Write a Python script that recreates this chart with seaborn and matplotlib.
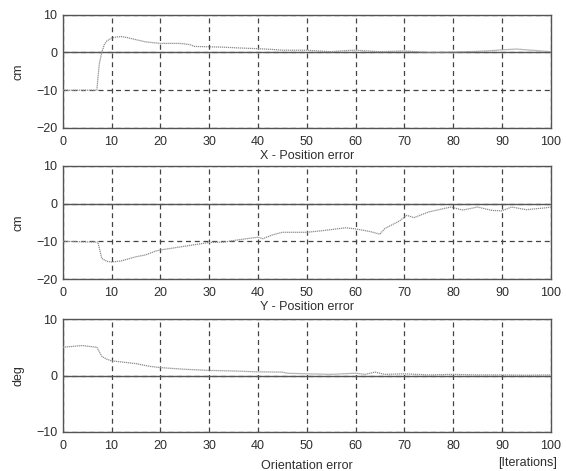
import numpy as np
import pandas as pd
import seaborn as sns
import matplotlib
matplotlib.use("Agg")
import matplotlib.pyplot as plt

sns.set_style("white")
plt.rcParams['font.family'] = ['Liberation Sans', 'DejaVu Sans']

# X - Position error (cm)
x_iter = [0, 6.5, 7, 7.2, 7.5, 8, 8.5, 9, 10, 11, 12, 13, 15, 17, 20, 24, 26, 27, 30, 33,
          36, 40, 43, 45, 50, 55, 58, 60, 65, 70, 75, 80, 85, 88, 90, 93, 95, 100]
x_err = [-10, -10, -10, -7, -3, 0, 2, 3, 3.8, 4.1, 4.2, 4.0, 3.4, 2.8, 2.4, 2.4, 2.1, 1.6, 1.5, 1.4,
         1.2, 1.0, 0.8, 0.6, 0.6, 0.2, 0.5, 0.6, 0.2, 0.4, 0.0, 0.1, 0.3, 0.5, 0.7, 0.9, 0.7, 0.2]

# Y - Position error (cm)
y_iter = [0, 7.2, 8, 9, 10, 12, 15, 17, 19, 20, 22, 25, 28, 30, 33, 36, 40, 41, 43, 45,
          50, 53, 58, 60, 63, 65, 66, 69, 70.5, 72, 75, 79.5, 82, 85, 88, 90, 92, 95, 99, 100]
y_err = [-10, -10.2, -14.5, -15.3, -15.5, -15.2, -14.1, -13.6, -12.6, -12.3, -11.9, -11.3, -10.7, -10.3, -10.2, -9.6, -8.9, -9.3, -8.3, -7.6,
         -7.6, -7.2, -6.4, -6.7, -7.4, -8.1, -6.6, -4.6, -3.1, -3.7, -2.2, -0.9, -1.7, -0.9, -1.8, -1.9, -0.9, -1.6, -1.1, -0.9]

# Orientation error (deg)
o_iter = [0, 4, 7, 8, 9, 10, 15, 18, 20, 25, 30, 35, 40, 45, 46, 50, 55, 60, 62, 64, 66, 70, 75, 80, 85, 90, 95, 100]
o_err = [5.0, 5.3, 5.0, 3.4, 2.9, 2.6, 2.1, 1.6, 1.4, 1.1, 0.9, 0.8, 0.65, 0.6, 0.4, 0.3, 0.2, 0.4, 0.2, 0.6, 0.2, 0.3, 0.1, 0.2, 0.1, 0.1, 0.05, 0.1]

fig = plt.figure(figsize=(5.66, 4.71), dpi=100)
W = 566.0
H = 471.0
left = 62.7 / W
width = (550.7 - 62.7) / W

panels = [
    (x_iter, x_err, (14.7, 128), (-20, 10), [-20, -10, 0, 10], "cm", "X - Position error", 1.5),
    (y_iter, y_err, (166, 279), (-20, 10), [-20, -10, 0, 10], "cm", "Y - Position error", 1.5),
    (o_iter, o_err, (319, 432), (-10, 10), [-10, 0, 10], "deg", "Orientation error", 5.5),
]

spine_c = "#555555"
txt_c = "#2e2e2e"
for xs, ys, (top, bot), ylim, yticks, ylab, xlab, lpad in panels:
    ax = fig.add_axes([left, 1 - bot / H, width, (bot - top) / H])
    df = pd.DataFrame({"it": xs, "err": ys})
    ax.axhline(0, color="#555555", lw=1.0, zorder=2)
    sns.lineplot(data=df, x="it", y="err", ax=ax, color="#8c8c8c", lw=0.9,
                 linestyle=(0, (1, 0.6)), zorder=3)
    ax.set_xlim(0, 100)
    ax.set_ylim(*ylim)
    ax.set_xticks(range(0, 101, 10))
    ax.set_yticks(yticks)
    ax.grid(True, color="#444444", linestyle=(0, (4, 3)), lw=0.9)
    for s in ax.spines.values():
        s.set_color(spine_c)
        s.set_linewidth(1.0)
    ax.tick_params(axis="x", direction="in", length=3, width=0.8, color=spine_c,
                   labelsize=9, labelcolor=txt_c, pad=6)
    ax.tick_params(axis="y", direction="in", length=3, width=0.8, color=spine_c,
                   labelsize=9, labelcolor=txt_c, pad=4)
    ax.set_ylabel(ylab, fontsize=9, color=txt_c, labelpad=8)
    ax.set_xlabel(xlab, fontsize=9, color=txt_c, labelpad=lpad)
    if ylab == "deg":
        ax.text(1.013, -0.274, "[Iterations]", transform=ax.transAxes, ha="right",
                va="center", fontsize=9, color=txt_c)

fig.savefig("out.png", dpi=100)
